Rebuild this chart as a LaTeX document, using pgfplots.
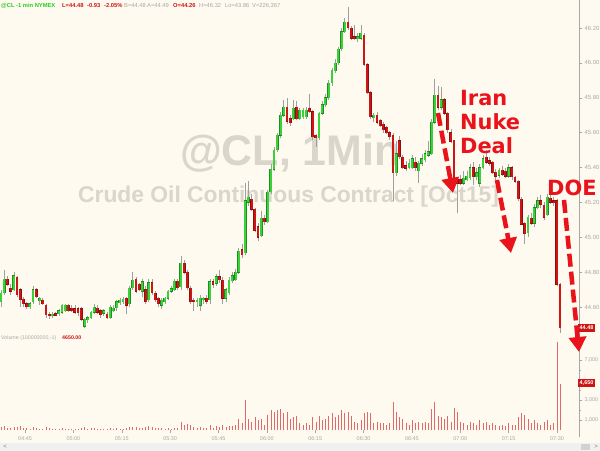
\documentclass[border=0pt]{standalone}
\usepackage{pgfplots}
\pgfplotsset{compat=1.18}
\usepackage{pgfplotstable}
\usepackage{fontspec}
\setmainfont{Liberation Sans}
\newfontfamily\dejavu{DejaVu Sans}
\usetikzlibrary{arrows.meta}
\definecolor{bg}{HTML}{FFFAF0}
\definecolor{up}{HTML}{3AD13A}
\definecolor{upd}{HTML}{1E8F1E}
\definecolor{dn}{HTML}{CC1515}
\definecolor{dnd}{HTML}{8E0E0E}
\definecolor{ann}{HTML}{E8131B}
\definecolor{wm}{HTML}{DAD6CC}
\definecolor{tk}{HTML}{A8A8A8}
\definecolor{vol}{HTML}{E06A6A}
\definecolor{hdrg}{HTML}{22CC22}

\pgfplotstableread{
t o h l c v
-7 44.63 44.70 44.60 44.68 300
-6 44.68 44.81 44.67 44.76 400
-5 44.76 44.78 44.72 44.73 200
-4 44.71 44.73 44.67 44.69 200
-3 44.70 44.80 44.69 44.78 350
-2 44.77 44.78 44.66 44.67 300
-1 44.70 44.71 44.60 44.64 400
0 44.645 44.66 44.60 44.62 250
1 44.62 44.63 44.59 44.60 200
2 44.60 44.63 44.59 44.62 150
3 44.63 44.72 44.62 44.70 300
4 44.70 44.71 44.65 44.66 200
5 44.635 44.66 44.61 44.65 150
6 44.64 44.65 44.61 44.62 150
7 44.61 44.62 44.54 44.555 300
8 44.56 44.57 44.53 44.55 200
9 44.55 44.57 44.54 44.56 100
10 44.56 44.57 44.55 44.555 100
11 44.56 44.59 44.55 44.58 150
12 44.57 44.62 44.56 44.61 200
13 44.58 44.62 44.57 44.61 150
14 44.61 44.62 44.57 44.58 150
15 44.595 44.61 44.57 44.58 100
16 44.59 44.61 44.56 44.57 100
17 44.59 44.60 44.55 44.565 150
18 44.59 44.60 44.52 44.53 250
19 44.49 44.54 44.48 44.53 300
20 44.525 44.55 44.51 44.54 150
21 44.54 44.58 44.53 44.57 200
22 44.57 44.62 44.56 44.60 200
23 44.595 44.61 44.56 44.57 150
24 44.58 44.59 44.54 44.555 150
25 44.565 44.59 44.55 44.58 100
26 44.56 44.57 44.53 44.54 150
27 44.54 44.61 44.53 44.60 250
28 44.58 44.61 44.57 44.595 150
29 44.595 44.64 44.58 44.63 200
30 44.625 44.65 44.61 44.64 150
31 44.63 44.66 44.62 44.645 150
32 44.65 44.66 44.56 44.61 250
33 44.62 44.72 44.60 44.71 350
34 44.71 44.80 44.70 44.755 300
35 44.76 44.77 44.68 44.69 300
36 44.73 44.74 44.69 44.70 200
37 44.69 44.76 44.66 44.745 250
38 44.70 44.72 44.62 44.63 300
39 44.64 44.76 44.63 44.74 400
40 44.74 44.76 44.67 44.68 300
41 44.68 44.69 44.63 44.64 200
42 44.65 44.66 44.60 44.62 200
43 44.61 44.65 44.59 44.64 250
44 44.63 44.66 44.62 44.65 150
45 44.65 44.70 44.64 44.69 200
46 44.69 44.72 44.68 44.705 150
47 44.70 44.76 44.69 44.75 250
48 44.75 44.76 44.70 44.71 200
49 44.715 44.89 44.70 44.85 800
50 44.85 44.87 44.79 44.80 500
51 44.80 44.81 44.70 44.71 600
52 44.71 44.72 44.62 44.63 500
53 44.64 44.65 44.58 44.63 350
54 44.63 44.65 44.60 44.64 250
55 44.61 44.67 44.58 44.65 300
56 44.64 44.66 44.62 44.65 200
57 44.65 44.67 44.62 44.63 250
58 44.64 44.76 44.62 44.745 500
59 44.745 44.76 44.71 44.73 250
60 44.735 44.79 44.72 44.775 400
61 44.775 44.81 44.74 44.755 300
62 44.755 44.77 44.62 44.65 500
63 44.65 44.71 44.63 44.70 300
64 44.68 44.77 44.67 44.755 450
65 44.75 44.80 44.74 44.78 400
66 44.755 44.82 44.75 44.80 550
67 44.80 44.94 44.79 44.92 1100
68 44.93 44.96 44.88 44.90 700
69 44.91 45.31 44.90 45.21 3000
70 45.20 45.32 45.18 45.23 1100
71 45.22 45.25 45.15 45.16 850
72 45.16 45.17 45.03 45.04 1300
73 45.06 45.08 44.98 45.00 1000
74 45.01 45.15 45.00 45.11 1100
75 45.11 45.13 45.07 45.09 550
76 45.09 45.27 45.08 45.26 1500
77 45.26 45.42 45.25 45.39 2000
78 45.39 45.52 45.38 45.50 1800
79 45.50 45.60 45.49 45.585 2000
80 45.585 45.72 45.57 45.70 2100
81 45.70 45.79 45.69 45.745 1700
82 45.745 45.80 45.65 45.665 1800
83 45.68 45.70 45.64 45.655 1100
84 45.68 45.79 45.67 45.74 1300
85 45.745 45.78 45.67 45.68 1400
86 45.68 45.74 45.67 45.73 700
87 45.69 45.74 45.68 45.73 550
88 45.69 45.75 45.68 45.73 700
89 45.74 45.82 45.71 45.72 550
90 45.72 45.73 45.56 45.575 1300
91 45.585 45.59 45.52 45.57 850
92 45.57 45.72 45.56 45.71 1400
93 45.71 45.78 45.70 45.76 1000
94 45.76 45.82 45.75 45.80 1100
95 45.80 45.90 45.79 45.885 1400
96 45.885 45.97 45.87 45.96 1700
97 45.955 46.02 45.94 46.00 1300
98 46.00 46.09 45.99 46.08 1500
99 46.08 46.20 46.07 46.18 2000
100 46.18 46.26 46.17 46.235 1700
101 46.235 46.32 46.19 46.20 1800
102 46.20 46.21 46.13 46.14 1400
103 46.15 46.22 46.13 46.14 850
104 46.14 46.17 46.12 46.15 700
105 46.14 46.22 46.13 46.17 1000
106 46.16 46.17 45.98 45.99 1700
107 45.99 46.00 45.82 45.83 1800
108 45.83 45.84 45.68 45.69 1700
109 45.685 45.71 45.66 45.70 700
110 45.70 45.72 45.65 45.66 850
111 45.67 45.68 45.63 45.64 700
112 45.65 45.66 45.60 45.615 700
113 45.63 45.64 45.59 45.60 550
114 45.60 45.61 45.56 45.575 700
115 45.585 45.60 45.21 45.37 2800
116 45.37 45.55 45.35 45.48 1800
117 45.555 45.58 45.45 45.46 1300
118 45.46 45.47 45.39 45.40 1100
119 45.41 45.44 45.38 45.395 700
120 45.40 45.45 45.39 45.425 550
121 45.40 45.47 45.39 45.45 1000
122 45.43 45.46 45.38 45.40 700
123 45.38 45.44 45.31 45.425 850
124 45.425 45.48 45.41 45.45 700
125 45.445 45.50 45.43 45.48 850
126 45.47 45.55 45.46 45.49 700
127 45.48 45.68 45.47 45.66 2100
128 45.66 45.91 45.65 45.815 2800
129 45.815 45.87 45.73 45.745 1400
130 45.745 45.86 45.73 45.79 1300
131 45.79 45.80 45.70 45.71 1100
132 45.71 45.72 45.60 45.615 1400
133 45.60 45.62 45.54 45.55 850
134 45.555 45.56 45.31 45.32 2200
135 45.33 45.34 45.14 45.31 1800
136 45.33 45.36 45.30 45.31 850
137 45.31 45.38 45.30 45.34 700
138 45.33 45.38 45.32 45.35 550
139 45.34 45.42 45.33 45.40 850
140 45.40 45.43 45.30 45.345 700
141 45.345 45.40 45.33 45.37 550
142 45.31 45.42 45.29 45.40 1000
143 45.40 45.47 45.39 45.45 700
144 45.46 45.50 45.42 45.43 850
145 45.44 45.46 45.41 45.425 550
146 45.43 45.44 45.36 45.37 700
147 45.375 45.39 45.33 45.35 550
148 45.355 45.40 45.34 45.385 400
149 45.385 45.41 45.35 45.36 550
150 45.38 45.40 45.34 45.35 400
151 45.35 45.42 45.34 45.40 700
152 45.40 45.41 45.33 45.345 550
153 45.345 45.35 45.31 45.32 550
154 45.32 45.33 45.21 45.22 1300
155 45.22 45.23 45.07 45.075 1700
156 45.08 45.09 44.96 45.02 1500
157 45.025 45.13 45.00 45.115 1100
158 45.11 45.14 45.07 45.08 700
159 45.08 45.19 45.06 45.17 1000
160 45.17 45.23 45.16 45.21 700
161 45.21 45.24 45.17 45.185 550
162 45.185 45.20 45.10 45.115 850
163 45.13 45.25 45.12 45.23 1000
164 45.225 45.25 45.19 45.20 550
165 45.21 45.23 45.18 45.20 700
166 45.21 45.22 44.72 44.73 8800
167 44.73 44.74 44.45 44.48 4650
}\candles

\begin{document}
\begin{tikzpicture}
\useasboundingbox (0bp,0bp) rectangle (600bp,451bp);
\fill[bg] (0bp,0bp) rectangle (600bp,451bp);
\begin{scope}[x=1bp,y=1bp]
\node[anchor=base west, text=wm, font=\fontsize{43}{43}\selectfont\bfseries, inner sep=0] at (180,286) {@CL, 1Min};
\node[anchor=base west, text=wm, font=\fontsize{22.9}{23}\selectfont\bfseries, inner sep=0] at (78,249) {Crude Oil Continuous Contract [Oct15]};
\end{scope}

% price panel
\begin{axis}[at={(0bp,116bp)}, anchor=south west, scale only axis,
  width=579bp, height=335bp,
  xmin=-7.3, xmax=172.9, ymin=44.4397, ymax=46.3606,
  axis line style={draw=none}, xtick=\empty,
  ytick={44.6,44.8,45.0,45.2,45.4,45.6,45.8,46.0,46.2},
  ytick pos=right, tick align=outside, major tick length=3bp,
  tick style={tk, line width=0.4bp},
  yticklabel style={font=\fontsize{6}{6}\selectfont, text=tk, xshift=-1bp,
    /pgf/number format/fixed, /pgf/number format/fixed zerofill,
    /pgf/number format/precision=2, /pgf/number format/assume math mode=true},
  clip=false]
% wicks
\addplot[draw=none, mark=none, forget plot,
  error bars/.cd, y dir=both, y explicit, error mark=none,
  error bar style={line width=0.6bp, draw=gray!75}]
  table[x=t, y expr={(\thisrow{h}+\thisrow{l})/2}, y error expr={(\thisrow{h}-\thisrow{l})/2}] {\candles};
% up bodies: outline then fill
\addplot[draw=none, mark=none, forget plot,
  restrict expr to domain={\thisrow{c}-\thisrow{o}}{0:10},
  error bars/.cd, y dir=both, y explicit, error mark=none,
  error bar style={line width=2.8bp, draw=upd}]
  table[x=t, y expr={(\thisrow{o}+\thisrow{c})/2}, y error expr={max(abs(\thisrow{c}-\thisrow{o})/2,0.004)+0.002}] {\candles};
\addplot[draw=none, mark=none, forget plot,
  restrict expr to domain={\thisrow{c}-\thisrow{o}}{0:10},
  error bars/.cd, y dir=both, y explicit, error mark=none,
  error bar style={line width=2.0bp, draw=up}]
  table[x=t, y expr={(\thisrow{o}+\thisrow{c})/2}, y error expr={max(abs(\thisrow{c}-\thisrow{o})/2,0.004)}] {\candles};
% down bodies: outline then fill
\addplot[draw=none, mark=none, forget plot,
  restrict expr to domain={\thisrow{c}-\thisrow{o}}{-10:-0.0001},
  error bars/.cd, y dir=both, y explicit, error mark=none,
  error bar style={line width=2.8bp, draw=dnd}]
  table[x=t, y expr={(\thisrow{o}+\thisrow{c})/2}, y error expr={max(abs(\thisrow{c}-\thisrow{o})/2,0.004)+0.002}] {\candles};
\addplot[draw=none, mark=none, forget plot,
  restrict expr to domain={\thisrow{c}-\thisrow{o}}{-10:-0.0001},
  error bars/.cd, y dir=both, y explicit, error mark=none,
  error bar style={line width=2.0bp, draw=dn}]
  table[x=t, y expr={(\thisrow{o}+\thisrow{c})/2}, y error expr={max(abs(\thisrow{c}-\thisrow{o})/2,0.004)}] {\candles};
\end{axis}

% volume panel
\begin{axis}[at={(0bp,21bp)}, anchor=south west, scale only axis,
  width=579bp, height=90bp,
  xmin=-7.3, xmax=172.9, ymin=0, ymax=9000,
  axis line style={draw=none},
  xtick={0.5,15.55,30.6,45.65,60.7,75.75,90.8,105.85,120.9,135.95,151.0,166.05},
  xticklabels={04:45,05:00,05:15,05:30,05:45,06:00,06:15,06:30,06:45,07:00,07:15,07:30},
  xtick pos=bottom,
  ytick={1000,3000,7000}, yticklabels={1{,}000,3{,}000,7{,}000},
  minor ytick={2000,4000,5000,6000},
  ytick pos=right, tick align=outside, major tick length=3bp, minor tick length=2bp,
  tick style={tk, line width=0.4bp},
  yticklabel style={font=\fontsize{5.5}{6}\selectfont, text=tk, xshift=-1bp},
  xticklabel style={font=\fontsize{5.5}{6}\selectfont, text=tk},
  clip=false]
\addplot[ycomb, draw=vol, line width=0.6bp, mark=none] table[x=t, y=v] {\candles};
\end{axis}

\begin{scope}[x=1bp,y=1bp]
% right axis line
\draw[gray!70, line width=0.6bp] (579,451) -- (579,14);

% header
\node[anchor=west, inner sep=0, text=hdrg, font=\fontsize{5.8}{6}\selectfont\bfseries] at (1,445) {@CL -1 min NYMEX};
\node[anchor=west, inner sep=0, text=dn, font=\fontsize{5.8}{6}\selectfont\bfseries] at (62,445) {L=44.48};
\node[anchor=west, inner sep=0, text=dn, font=\fontsize{5.8}{6}\selectfont\bfseries] at (87,445) {-0.93};
\node[anchor=west, inner sep=0, text=dn, font=\fontsize{5.8}{6}\selectfont\bfseries] at (104,445) {-2.05\%};
\node[anchor=west, inner sep=0, text=tk, font=\fontsize{5.8}{6}\selectfont] at (124,445) {B=44.48};
\node[anchor=west, inner sep=0, text=tk, font=\fontsize{5.8}{6}\selectfont] at (147,445) {A=44.49};
\node[anchor=west, inner sep=0, text=dn, font=\fontsize{5.8}{6}\selectfont\bfseries] at (173,445) {O=44.26};
\node[anchor=west, inner sep=0, text=tk, font=\fontsize{5.8}{6}\selectfont] at (199,445) {H=46.32};
\node[anchor=west, inner sep=0, text=tk, font=\fontsize{5.8}{6}\selectfont] at (225,445) {Lo=43.86};
\node[anchor=west, inner sep=0, text=tk, font=\fontsize{5.8}{6}\selectfont] at (252,445) {V=226,367};

% volume caption
\node[anchor=west, inner sep=0, text=tk, font=\fontsize{5.3}{6}\selectfont] at (1,113) {Volume (100000000,-1)};
\node[anchor=west, inner sep=0, text=dn, font=\fontsize{5.3}{6}\selectfont\bfseries] at (62,113) {4650.00};

% price / volume flags
\node[anchor=west, fill=dn, text=white, inner xsep=1.5bp, inner ysep=1.8bp, font=\fontsize{5.5}{6}\selectfont\bfseries] at (578,123) {44.48};
\node[anchor=west, fill=dn, text=white, inner xsep=1.5bp, inner ysep=1.8bp, font=\fontsize{5.5}{6}\selectfont\bfseries] at (578,68) {4,650};

% annotations
\node[anchor=base west, inner sep=0, text=ann, font=\dejavu\bfseries\fontsize{21}{21}\selectfont] at (460,346) {Iran};
\node[anchor=base west, inner sep=0, text=ann, font=\dejavu\bfseries\fontsize{21}{21}\selectfont] at (460,322) {Nuke};
\node[anchor=base west, inner sep=0, text=ann, font=\dejavu\bfseries\fontsize{21}{21}\selectfont] at (460,298) {Deal};
\node[anchor=base west, inner sep=0, text=ann, font=\dejavu\bfseries\fontsize{21}{21}\selectfont] at (547,256) {DOE};
\draw[ann, line width=4.5bp, dash pattern=on 13bp off 5bp, -{Triangle[width=17bp,length=15bp]}] (438,338) -- (453,258);
\draw[ann, line width=4.5bp, dash pattern=on 13bp off 5bp, -{Triangle[width=17bp,length=15bp]}] (497,271) -- (511,198);
\draw[ann, line width=4.5bp, dash pattern=on 13bp off 5bp, -{Triangle[width=17bp,length=15bp]}] (564,251) -- (579,99);

% scrollbar
\fill[gray!12] (0,0) rectangle (600,8);
\fill[gray!35] (581,1) rectangle (590,7);
\node[text=gray, font=\fontsize{6}{6}\selectfont, inner sep=0] at (5,4) {<};
\node[text=gray, font=\fontsize{6}{6}\selectfont, inner sep=0] at (596,4) {>};
\end{scope}
\end{tikzpicture}
\end{document}
